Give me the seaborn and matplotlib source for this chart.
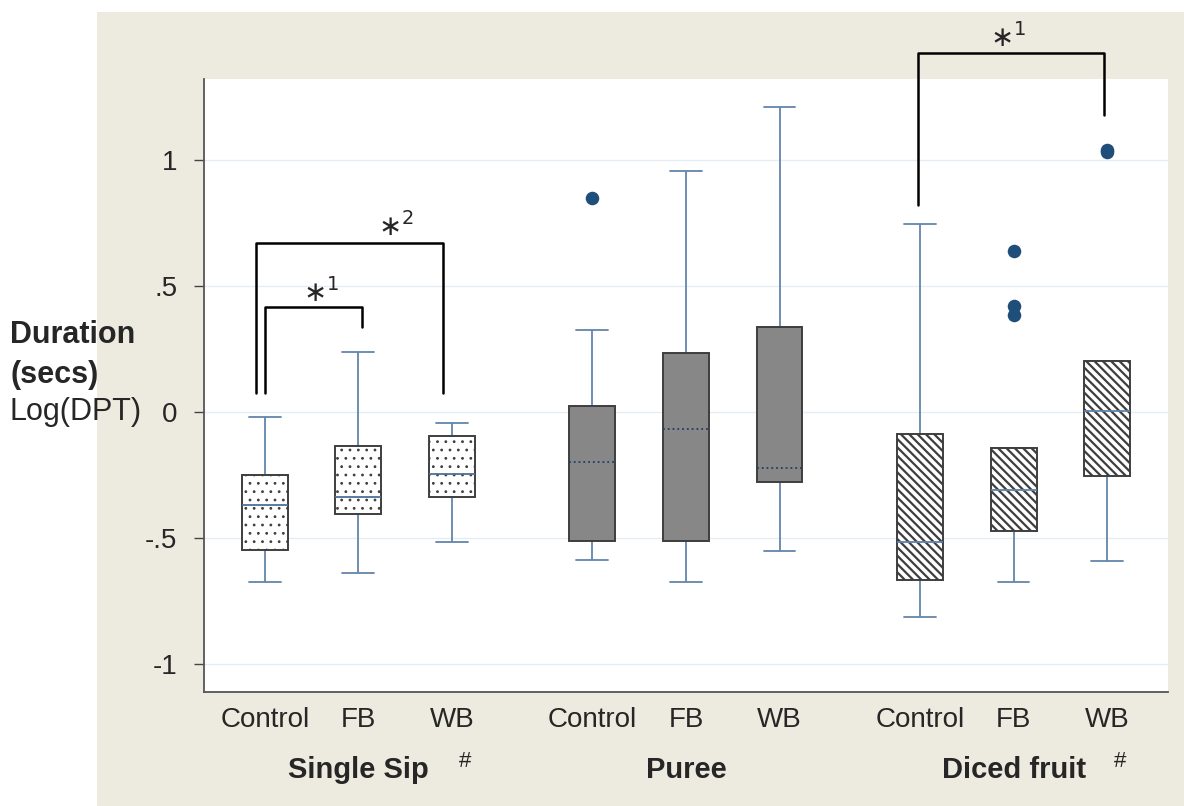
import numpy as np
import pandas as pd
import matplotlib
matplotlib.use("Agg")
import matplotlib.pyplot as plt
from matplotlib.patches import Rectangle
import seaborn as sns

# ---- data (log duration) ----
groups = ["Single Sip", "Puree", "Diced fruit"]
conditions = ["Control", "FB", "WB"]
group_marks = ["#", "", "#"]

# box summaries: Single Sip C/FB/WB, Puree C/FB/WB, Diced fruit C/FB/WB
whisk_lo = [-0.676, -0.638, -0.515, -0.586, -0.676, -0.552, -0.815, -0.675, -0.590]
q1 = [-0.548, -0.405, -0.336, -0.513, -0.513, -0.277, -0.668, -0.472, -0.253]
median = [-0.370, -0.337, -0.247, -0.197, -0.069, -0.221, -0.515, -0.310, 0.004]
q3 = [-0.250, -0.136, -0.094, 0.024, 0.233, 0.337, -0.088, -0.144, 0.204]
whisk_hi = [-0.020, 0.238, -0.042, 0.325, 0.958, 1.209, 0.746, -0.144, 0.204]

# outliers: index of the box they belong to and their value
outlier_box = [3, 7, 7, 7, 8, 8]
outlier_val = [0.848, 0.639, 0.419, 0.383, 1.040, 1.030]

yticks = [1, 0.5, 0, -0.5, -1]
ytick_labels = ["1", ".5", "0", "-.5", "-1"]

# significance brackets (x in box-position units, y in data units)
br_x0 = [0.0, -0.09, 6.98]
br_x1 = [1.04, 1.90, 8.97]
br_top = [0.418, 0.669, 1.423]
br_left_foot = [0.074, 0.074, 0.821]
br_right_foot = [0.338, 0.074, 1.179]
br_label = [r"$\ast^{1}$", r"$\ast^{2}$", r"$\ast^{1}$"]
br_text_x = [0.60, 1.40, 7.94]
br_text_y = [0.472, 0.734, 1.484]

# ---- build long-form table: one 5-point sample per box ----
rows = []
for g in range(len(groups)):
    for c in range(len(conditions)):
        i = g * 3 + c
        pos = g * 3.5 + c
        for v in (whisk_lo[i], q1[i], median[i], q3[i], whisk_hi[i]):
            rows.append({"group": g, "pos": pos, "value": v})
df = pd.DataFrame(rows)
positions = sorted(df["pos"].unique())

sns.set_style("white")
plt.rcParams["font.family"] = ["Liberation Sans", "DejaVu Sans"]
plt.rcParams["mathtext.fontset"] = "dejavusans"

fig = plt.figure(figsize=(11.84, 8.06), dpi=100)
fig.patch.set_facecolor("white")
fig.add_artist(Rectangle((97 / 1184, 0), 1 - 97 / 1184, 1 - 12 / 806,
                         transform=fig.transFigure, facecolor="#EDEBE0",
                         edgecolor="none", zorder=-10))
ax = fig.add_axes([0.1723, 0.1414, 0.8142, 0.7605])
ax.set_facecolor("white")

whisk_color = "#6385AA"
box_edge = "#3E3E3E"
face = ["white", "#878787", "white"]
hatch = ["..", None, "\\\\\\\\"]
med_style = ["-", ":", "-"]
med_color = ["#4D7098", "#1F3F66", "#5E82A8"]
box_width = 0.49
cap_width = 0.34

for g in range(len(groups)):
    n_patches = len(ax.patches)
    n_lines = len(ax.lines)
    sns.boxplot(data=df[df["group"] == g], x="pos", y="value", native_scale=True,
                whis=(0, 100), showfliers=False, width=box_width, saturation=1,
                color=face[g], linecolor=box_edge, linewidth=1.4, ax=ax,
                whiskerprops=dict(color=whisk_color, linewidth=1.3),
                capprops=dict(color=whisk_color, linewidth=1.3),
                medianprops=dict(color=med_color[g], linewidth=1.3,
                                 linestyle=med_style[g]))
    for p in ax.patches[n_patches:]:
        p.set_facecolor(face[g])
        p.set_edgecolor(box_edge)
        p.set_zorder(3)
        if hatch[g]:
            p.set_hatch(hatch[g])
            if hasattr(p, "set_hatch_linewidth"):
                p.set_hatch_linewidth(1.6 if g == 2 else 0.8)
    for ln in ax.lines[n_lines:]:
        xs = np.asarray(ln.get_xdata(), dtype=float)
        ys = np.asarray(ln.get_ydata(), dtype=float)
        horizontal = len(xs) == 2 and ys[0] == ys[1]
        if horizontal and np.ptp(xs) >= box_width * 0.8:
            ln.set_zorder(4)  # median drawn over the box
        else:
            ln.set_zorder(2.5)  # whiskers and caps sit behind the box
            if horizontal:
                mid = xs.mean()
                ln.set_xdata([mid - cap_width / 2, mid + cap_width / 2])

# outliers
sns.scatterplot(x=[positions[b] for b in outlier_box], y=outlier_val, ax=ax,
                color="#1F4E7A", s=95, linewidth=0, zorder=5)

# significance brackets
for k in range(len(br_label)):
    ax.plot([br_x0[k], br_x0[k], br_x1[k], br_x1[k]],
            [br_left_foot[k], br_top[k], br_top[k], br_right_foot[k]],
            color="black", lw=1.8, clip_on=False, zorder=6)
    ax.text(br_text_x[k], br_text_y[k], br_label[k], ha="center", va="center",
            fontsize=20, clip_on=False)

ax.set_xlim(-0.649, 9.65)
ax.set_ylim(-1.111, 1.321)
ax.set_xticks(positions)
ax.set_xticklabels(conditions * len(groups))
ax.set_yticks(yticks)
ax.set_yticklabels(ytick_labels)
ax.set_xlabel("")
ax.set_ylabel("")
ax.tick_params(axis="x", length=0, pad=11, labelsize=20)
ax.tick_params(axis="y", length=7, width=1, color="#444444", pad=12,
               labelsize=20, direction="out", left=True)
ax.yaxis.grid(True, color="#E4EDF3", lw=1)
ax.xaxis.grid(False)
ax.set_axisbelow(True)
for s in ["top", "right"]:
    ax.spines[s].set_visible(False)
for s in ["left", "bottom"]:
    ax.spines[s].set_color("#555555")
    ax.spines[s].set_linewidth(1.3)

# group names under the condition labels
xt = ax.get_xaxis_transform()
for g, name in enumerate(groups):
    cx = np.mean(positions[g * 3:g * 3 + 3])
    ax.text(cx, -0.127, name, transform=xt, ha="center", va="center",
            fontsize=21, fontweight="bold")
    if group_marks[g]:
        ax.text(cx + 1.14, -0.114, group_marks[g], transform=xt,
                ha="center", va="center", fontsize=16)

# y-axis title
fig.text(10 / 1184, 1 - 335 / 806, "Duration", fontsize=22, fontweight="bold",
         va="center", ha="left")
fig.text(10 / 1184, 1 - 375 / 806, "(secs)", fontsize=22, fontweight="bold",
         va="center", ha="left")
fig.text(10 / 1184, 1 - 412 / 806, "Log(DPT)", fontsize=22,
         va="center", ha="left")

fig.savefig("out.png", dpi=100)
